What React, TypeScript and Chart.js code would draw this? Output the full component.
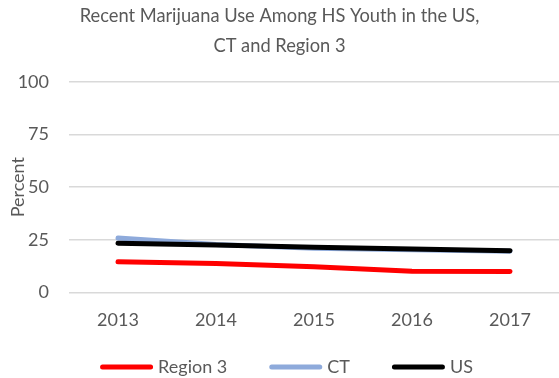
import React, { useEffect, useRef } from "react";
import { Chart, registerables } from "chart.js";

Chart.register(...registerables);

const categories = ["2013", "2014", "2015", "2016", "2017"];
const region3Values = [14.6, 13.7, 12.2, 10.1, 9.9];
const ctValues = [25.8, 22.8, 21.0, 20.3, 19.6];
const usValues = [23.4, 22.5, 21.5, 20.6, 19.8];
const yTickValues = [0, 25, 50, 75, 100];
const titleLines = ["Recent Marijuana Use Among HS Youth in the US,", "CT and Region 3"];
const seriesNames = ["Region 3", "CT", "US"];
const seriesColors = ["#ff0000", "#8eaadb", "#000000"];

const TEXT = "#595959";
const FONT = "Lato";

const legendPlugin = {
  id: "customLegend",
  afterDraw(chart: any) {
    const ctx = chart.ctx;
    const ds = chart.data.datasets;
    ctx.save();
    ctx.font = `18px ${FONT}`;
    const lineLen = 48;
    const cap = 2.5;
    const gapText = 5;
    const gapItem = 42;
    const widths = ds.map((d: any) => ctx.measureText(d.label).width);
    let total = 0;
    widths.forEach((w: number, i: number) => {
      total += cap * 2 + lineLen + gapText + w;
      if (i < widths.length - 1) total += gapItem;
    });
    let x = chart.width / 2 + 7 - total / 2;
    const y = 367;
    ds.forEach((d: any, i: number) => {
      ctx.strokeStyle = d.borderColor;
      ctx.lineWidth = 5;
      ctx.lineCap = "round";
      ctx.beginPath();
      ctx.moveTo(x + cap, y);
      ctx.lineTo(x + cap + lineLen, y);
      ctx.stroke();
      x += cap * 2 + lineLen + gapText;
      ctx.fillStyle = TEXT;
      ctx.textBaseline = "middle";
      ctx.textAlign = "left";
      ctx.fillText(d.label, x, y);
      x += widths[i] + gapItem;
    });
    ctx.restore();
  },
};

export default function App() {
  const ref = useRef<HTMLCanvasElement | null>(null);
  useEffect(() => {
    if (!ref.current) return;
    const seriesData = [region3Values, ctValues, usValues];
    const orders = [2, 1, 0];
    const chart = new Chart(ref.current, {
      type: "line",
      data: {
        labels: categories,
        datasets: seriesNames.map((name, i) => ({
          label: name,
          data: seriesData[i],
          borderColor: seriesColors[i],
          backgroundColor: seriesColors[i],
          borderWidth: 5,
          borderCapStyle: "round",
          borderJoinStyle: "round",
          pointRadius: 0,
          pointHoverRadius: 0,
          tension: 0,
          fill: false,
          order: orders[i],
        })),
      },
      options: {
        responsive: false,
        animation: false,
        layout: { padding: { left: 0, right: 0, top: 0, bottom: 30 } },
        plugins: {
          legend: { display: false },
          tooltip: { enabled: false },
          title: {
            display: true,
            text: titleLines,
            color: TEXT,
            font: { family: FONT, size: 18.3, weight: "normal", lineHeight: 30 / 18.3 },
            padding: { top: 1, bottom: 21 },
          },
        },
        scales: {
          x: {
            offset: true,
            grid: { display: false, drawTicks: false },
            border: { display: false },
            ticks: { color: TEXT, font: { family: FONT, size: 18 }, padding: 17 },
          },
          y: {
            min: 0,
            max: 100,
            afterBuildTicks: (s: any) => {
              s.ticks = yTickValues.map((v) => ({ value: v }));
            },
            afterFit: (s: any) => {
              s.width = 69;
            },
            grid: { color: "#d9d9d9", lineWidth: 1.5, drawTicks: false },
            border: { display: false },
            ticks: { color: TEXT, font: { family: FONT, size: 18 }, padding: 20 },
            title: {
              display: true,
              text: "Percent",
              color: TEXT,
              font: { family: FONT, size: 18 },
              padding: { top: 7, bottom: 0 },
            },
          },
        },
      },
      plugins: [legendPlugin],
    } as any);
    return () => chart.destroy();
  }, []);
  return (
    <div style={{ position: "absolute", left: 0, top: 0, width: 559, height: 378, background: "#fff" }}>
      <canvas ref={ref} width={559} height={378} style={{ display: "block" }} />
    </div>
  );
}
